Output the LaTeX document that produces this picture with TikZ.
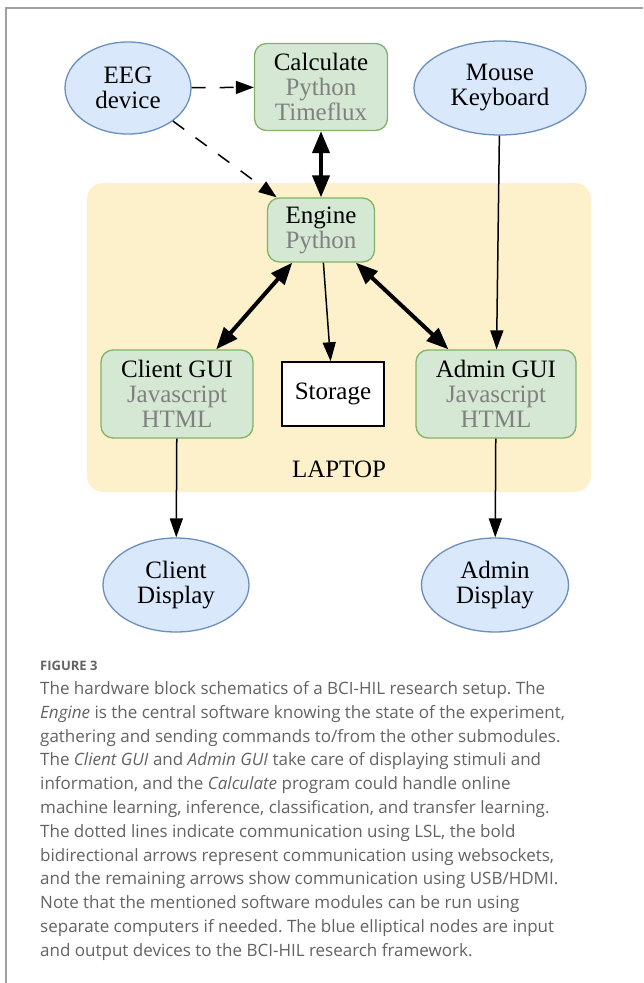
\documentclass[tikz,border=0pt]{standalone}
\usepackage{fontspec}
\setmainfont{Liberation Serif}
\newfontfamily\capfont{Open Sans}
\usetikzlibrary{shapes.geometric,arrows.meta}
\frenchspacing
\definecolor{ellfill}{HTML}{DAE8FC}
\definecolor{elldraw}{HTML}{6C8EBF}
\definecolor{boxfill}{HTML}{D5E8D4}
\definecolor{boxdraw}{HTML}{82B366}
\definecolor{lapfill}{HTML}{FDF1CC}
\definecolor{subtext}{HTML}{808080}
\definecolor{captext}{HTML}{636363}
\definecolor{framecol}{HTML}{A0A0A0}
\tikzset{
  nodefont/.style={font=\fontsize{25}{25}\selectfont},
  dev/.style={ellipse, fill=ellfill, draw=elldraw, line width=1.3pt, inner sep=0pt, align=center, nodefont},
  soft/.style={rectangle, rounded corners=12pt, fill=boxfill, draw=boxdraw, line width=1.3pt, inner sep=0pt, align=center, nodefont},
  store/.style={rectangle, fill=white, draw=black, line width=1.5pt, inner sep=0pt, align=center, nodefont},
  usb/.style={line width=1.5pt, -{Triangle[length=19pt,width=13pt]}},
  ws/.style={line width=4pt, {Triangle[length=22pt,width=17pt]}-{Triangle[length=22pt,width=17pt]}},
  lsl/.style={line width=1.5pt, dash pattern=on 14pt off 14pt, -{Triangle[length=18pt,width=13pt]}},
  capline/.style={anchor=base west, inner sep=0pt, text=captext, font=\capfont\fontsize{17}{19}\selectfont}
}
\begin{document}
\begin{tikzpicture}[x=1pt,y=-1pt]
\useasboundingbox (0,0) rectangle (643,983);
\fill[white] (0,0) rectangle (643,983);
\draw[framecol, line width=1.6pt] (6,983) -- (6,8) -- (643,8);

% laptop background
\fill[lapfill, rounded corners=16pt] (87,183) rectangle (591,492);
\node[nodefont, inner sep=0pt] (laptop) at (339,469) {LAPTOP};

% nodes
\node[dev, minimum width=126pt, minimum height=92pt] (eeg) at (128,88) {EEG\\device};
\node[soft, minimum width=133pt, minimum height=87pt] (calc) at (321,87) {Calculate\\\textcolor{subtext}{Python}\\\textcolor{subtext}{Timeflux}};
\node[dev, minimum width=172pt, minimum height=94pt] (mouse) at (500,88) {Mouse\\Keyboard};
\node[soft, minimum width=107pt, minimum height=64pt] (engine) at (321,230) {Engine\\\textcolor{subtext}{Python}};
\node[soft, minimum width=152pt, minimum height=88pt] (client) at (177,394) {Client GUI\\\textcolor{subtext}{Javascript}\\\textcolor{subtext}{HTML}};
\node[store, minimum width=102pt, minimum height=64pt] (storage) at (333,394) {Storage};
\node[soft, minimum width=160pt, minimum height=88pt] (admin) at (496,394) {Admin GUI\\\textcolor{subtext}{Javascript}\\\textcolor{subtext}{HTML}};
\node[dev, minimum width=146pt, minimum height=94pt] (cdisp) at (176,585) {Client\\Display};
\node[dev, minimum width=147pt, minimum height=94pt] (adisp) at (495,585) {Admin\\Display};

% connectors
\draw[lsl] (eeg) -- (calc);
\draw[lsl] (eeg) -- (engine);
\draw[ws] (calc) -- (engine);
\draw[ws] (engine) -- (client);
\draw[ws] (engine) -- (admin);
\draw[usb] (engine) -- (storage);
\draw[usb] (mouse) -- (admin);
\draw[usb] (client) -- (cdisp);
\draw[usb] (admin) -- (adisp);

% caption
\node[anchor=base west, inner sep=0pt, text=captext, font=\capfont\bfseries\fontsize{13}{15}\selectfont] (fig) at (40,670) {FIGURE 3};
\node[capline] (c1) at (40,694) {The hardware block schematics of a BCI-HIL research setup. The};
\node[capline] (c2) at (40,718) {\emph{Engine} is the central software knowing the state of the experiment,};
\node[capline] (c3) at (40,742) {gathering and sending commands to/from the other submodules.};
\node[capline] (c4) at (40,765.5) {The \emph{Client GUI} and \emph{Admin GUI} take care of displaying stimuli and};
\node[capline] (c5) at (40,789) {information, and the \emph{Calculate} program could handle online};
\node[capline] (c6) at (40,813) {machine learning, inference, classification, and transfer learning.};
\node[capline] (c7) at (40,837) {The dotted lines indicate communication using LSL, the bold};
\node[capline] (c8) at (40,861) {bidirectional arrows represent communication using websockets,};
\node[capline] (c9) at (40,884.5) {and the remaining arrows show communication using USB/HDMI.};
\node[capline] (c10) at (40,908) {Note that the mentioned software modules can be run using};
\node[capline] (c11) at (40,932) {separate computers if needed. The blue elliptical nodes are input};
\node[capline] (c12) at (40,956) {and output devices to the BCI-HIL research framework.};
\end{tikzpicture}
\end{document}
